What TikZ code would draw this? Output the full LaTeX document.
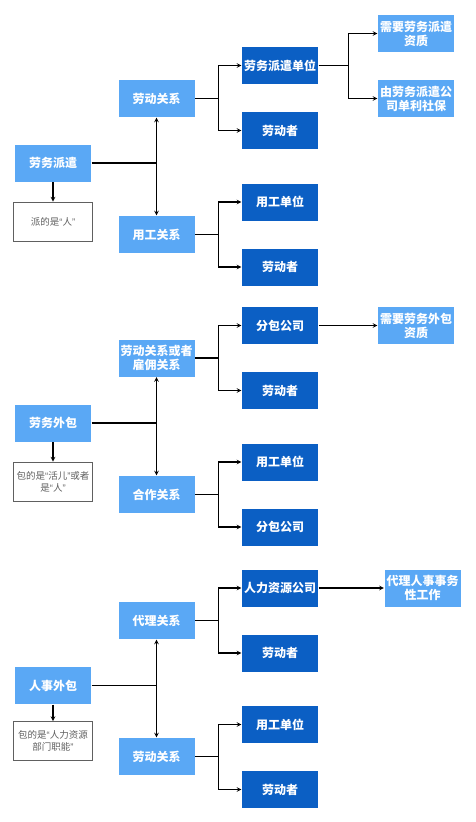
\documentclass[tikz,border=0pt]{standalone}
\usepackage{fontspec}
\setmainfont{Noto Sans CJK SC}
\newfontfamily\latinq{Liberation Sans}
\newcommand\qopen{{\latinq “}}
\newcommand\qclose{{\latinq ”}}
\definecolor{lightblue}{HTML}{5AA8F5}
\definecolor{darkblue}{HTML}{0B5FC4}
\definecolor{notegray}{HTML}{606060}
\begin{document}
\begin{tikzpicture}[x=1pt, y=-1pt, >=stealth, line width=1.1pt]
\useasboundingbox (0,0) rectangle (475,822);
\tikzstyle{every node} = [rectangle, minimum width=76pt, minimum height=37pt, inner sep=1pt, align=center, text=white, font=\bfseries\fontsize{12}{14}\selectfont]
\tikzstyle{light} = [fill=lightblue]
\tikzstyle{dark} = [fill=darkblue]
\tikzstyle{note} = [fill=white, draw=notegray, line width=0.8pt, text=notegray, minimum width=79pt, minimum height=39pt, font=\fontsize{9.5}{12}\selectfont]
% 劳务派遣
\node[light] (pq) at (53, 163) {劳务派遣};
\node[note] (pqn) at (53, 221.5) {派的是\qopen 人\qclose};
\node[light] (ld1) at (156.5, 98.5) {劳动关系};
\node[light] (yg1) at (156.5, 234.5) {用工关系};
\node[dark] (dw1) at (280, 65.5) {劳务派遣单位};
\node[dark] (lz1) at (280, 130.5) {劳动者};
\node[dark] (yd1) at (280, 202) {用工单位};
\node[dark] (lz2) at (280, 267) {劳动者};
\node[light] (zz1) at (416, 33.5) {需要劳务派遣\\资质};
\node[light] (sb1) at (416, 98.5) {由劳务派遣公\\司单利社保};
% 劳务外包
\node[light] (wb) at (53, 423) {劳务外包};
\node[note] (wbn) at (53, 481.5) {包的是\qopen 活儿\qclose 或者\\是\qopen 人\qclose};
\node[light] (gy) at (156.5, 358) {劳动关系或者\\雇佣关系};
\node[light] (hz) at (156.5, 494.5) {合作关系};
\node[dark] (fb1) at (280, 325.5) {分包公司};
\node[dark] (lz3) at (280, 390.5) {劳动者};
\node[dark] (yd2) at (280, 462) {用工单位};
\node[dark] (fb2) at (280, 527) {分包公司};
\node[light] (zz2) at (416, 325.5) {需要劳务外包\\资质};
% 人事外包
\node[light] (rs) at (53, 685.5) {人事外包};
\node[note] (rsn) at (53, 741) {包的是\qopen 人力资源\\部门职能\qclose};
\node[light] (dl) at (156.5, 620.5) {代理关系};
\node[light] (ld2) at (156.5, 756.5) {劳动关系};
\node[dark] (hr) at (280, 588) {人力资源公司};
\node[dark] (lz4) at (280, 653) {劳动者};
\node[dark] (yd3) at (280, 724.5) {用工单位};
\node[dark] (lz5) at (280, 789.5) {劳动者};
\node[light] (dlw) at (422.5, 588) {代理人事事务\\性工作};
\foreach \root/\up/\down/\note in {pq/ld1/yg1/pqn, wb/gy/hz/wbn, rs/dl/ld2/rsn} {
\draw (\root.east) -- (\root.east -| \up.south);
\draw [<->] (\up) -- (\down);
\draw [->] (\root) -- (\note);
}
\foreach \from/\to in {ld1/dw1, ld1/lz1, yg1/yd1, yg1/lz2, gy/fb1, gy/lz3, hz/yd2, hz/fb2, dl/hr, dl/lz4, ld2/yd3, ld2/lz5}
\draw [->] (\from.east) -- ++(23, 0) |- (\to.west);
\foreach \to in {zz1, sb1}
\draw [->] (dw1.east) -- ++(30, 0) |- (\to.west);
\foreach \from/\to in {fb1/zz2, hr/dlw}
\draw [->] (\from) -- (\to);
\end{tikzpicture}
\end{document}
